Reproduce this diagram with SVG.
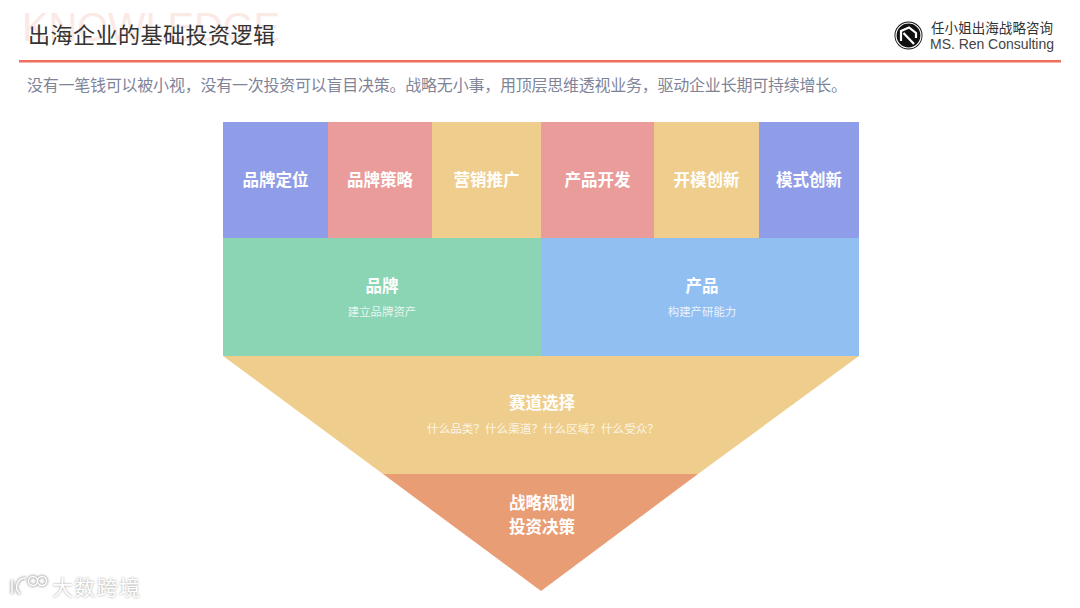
<svg xmlns="http://www.w3.org/2000/svg" width="1080" height="608" viewBox="0 0 1080 608">
<style>
text{font-family:"Noto Sans CJK SC","Liberation Sans",sans-serif}
.h{fill:#fff;font-size:16.500px;font-weight:700;text-anchor:middle}
.s{fill:#fff;fill-opacity:.8;font-size:11.400px;text-anchor:middle}
</style>
<defs><filter id="glow" x="-20%" y="-30%" width="140%" height="160%"><feGaussianBlur stdDeviation="1.3"/></filter></defs>
<rect width="1080" height="608" fill="#fff"/>
<text x="22" y="41" font-size="40" fill="#fbe9e5" style="font-family:'Liberation Sans',sans-serif" textLength="258" lengthAdjust="spacingAndGlyphs">KNOWLEDGE</text>
<text id="title" x="28" y="43" font-size="22" fill="#333" textLength="247">出海企业的基础投资逻辑</text>
<rect x="19" y="60" width="1042" height="2.500" fill="#ee6f5c"/>
<text id="subtitle" x="27" y="91" font-size="16" fill="#7f8499" textLength="820">没有一笔钱可以被小视，没有一次投资可以盲目决策。战略无小事，用顶层思维透视业务，驱动企业长期可持续增长。</text>
<g id="logo">
<circle cx="908.500" cy="35.500" r="14" fill="#111"/>
<circle cx="908.500" cy="35.500" r="12.500" fill="none" stroke="#fff" stroke-width="1.200"/>
<path d="M901 41 L901 31 L909 27.500 L916 33 L916 38 M903.500 33 L914 44" fill="none" stroke="#fff" stroke-width="2.200"/>
<text x="931" y="33" font-size="13.500" fill="#333" textLength="122">任小姐出海战略咨询</text>
<text x="930" y="49" font-size="14" fill="#444" style="font-family:'Liberation Sans',sans-serif" textLength="124">MS. Ren Consulting</text>
</g>
<g id="n1"><rect x="223" y="122" width="105" height="116" fill="#8f9ce8"/><text class="h" x="275.500" y="185.500">品牌定位</text></g>
<g id="n2"><rect x="328" y="122" width="104" height="116" fill="#ea9c9b"/><text class="h" x="380" y="185.500">品牌策略</text></g>
<g id="n3"><rect x="432" y="122" width="109" height="116" fill="#efce8d"/><text class="h" x="486.500" y="185.500">营销推广</text></g>
<g id="n4"><rect x="541" y="122" width="113" height="116" fill="#ea9c9b"/><text class="h" x="597.500" y="185.500">产品开发</text></g>
<g id="n5"><rect x="654" y="122" width="105" height="116" fill="#efce8d"/><text class="h" x="706.500" y="185.500">开模创新</text></g>
<g id="n6"><rect x="759" y="122" width="100" height="116" fill="#8f9ce8"/><text class="h" x="809" y="185.500">模式创新</text></g>
<g id="brand"><rect x="223" y="238" width="318" height="118" fill="#8cd5b4"/><text class="h" x="382" y="291.500">品牌</text><text class="s" x="382" y="316">建立品牌资产</text></g>
<g id="product"><rect x="541" y="238" width="318" height="118" fill="#92bff2"/><text class="h" x="702" y="291.500">产品</text><text class="s" x="702" y="316">构建产研能力</text></g>
<g id="track"><polygon points="223,356 859,356 698,474 383,474" fill="#efce8d"/><text class="h" x="542" y="408.500">赛道选择</text><text class="s" x="543" y="433" style="font-size:11.600px">什么品类？什么渠道？什么区域？什么受众？</text></g>
<g id="strategy"><polygon points="383,474 698,474 541,591" fill="#e89d75"/><text class="h" x="542" y="508.500">战略规划</text><text class="h" x="542" y="532.500">投资决策</text></g>
<g id="connectors"/>
<g id="watermark">
<g fill="none" stroke="#aaa" stroke-width="3" filter="url(#glow)"><path d="M12 580v14M26 578a9 9 0 0 0-6 16"/><circle cx="33" cy="581" r="4.500"/><circle cx="42" cy="581" r="4.500"/></g>
<text x="52" y="595" font-size="21" fill="#999" filter="url(#glow)" textLength="88">大数跨境</text>
<text x="52" y="595" font-size="21" fill="#fff" textLength="88">大数跨境</text>
<g fill="none" stroke="#fff" stroke-width="1.500"><path d="M12 580v14M26 578a9 9 0 0 0-6 16"/><circle cx="33" cy="581" r="4.500"/><circle cx="42" cy="581" r="4.500"/></g>
</g>
</svg>
